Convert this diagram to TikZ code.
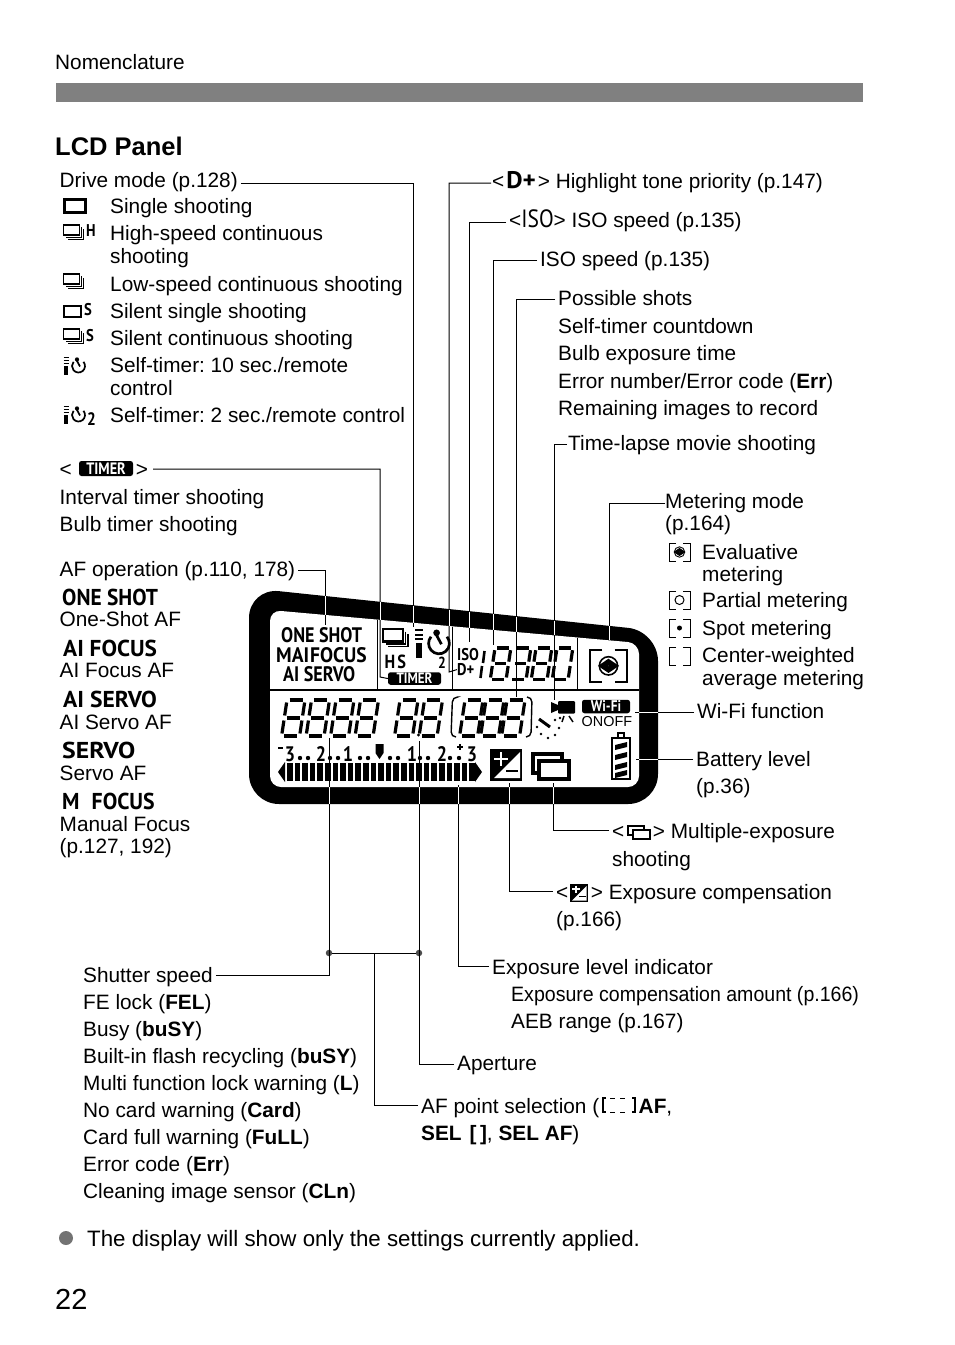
\documentclass[tikz,border=0pt]{standalone}
\usepackage{fontspec}
\setmainfont{Liberation Sans}
\newfontfamily\lcdfont[FakeStretch=0.86]{PT Sans}
\usetikzlibrary{positioning}

\tikzset{
  txt/.style={anchor=base west,inner sep=0pt,font=\fontsize{20.8}{24}\selectfont,text height=14pt,text depth=2pt},
  lcdtxt/.style={anchor=base west,inner sep=0pt,font=\lcdfont\bfseries\fontsize{#1}{#1}\selectfont},
  lcdtxt/.default=23,
  leader/.style={line width=1pt,shorten <=3pt},
  tag/.style={fill=black,text=white,rounded corners=2.5pt,inner sep=0pt,font=\lcdfont\bfseries\fontsize{#1}{#1}\selectfont},
  seg/.style={line width=3.2pt},
  junction/.style={circle,fill=black!70,inner sep=0pt,minimum size=6.5pt}
}

% seven segment digits
\def\segzero{2.5/0/15.5/0,2.5/36/15.5/36,0/2.5/0/15.5,18/2.5/18/15.5,0/20.5/0/33.5,18/20.5/18/33.5}
\def\segthree{2.5/0/15.5/0,2.5/18/15.5/18,2.5/36/15.5/36,18/2.5/18/15.5,18/20.5/18/33.5}
\def\segeight{2.5/0/15.5/0,2.5/18/15.5/18,2.5/36/15.5/36,0/2.5/0/15.5,18/2.5/18/15.5,0/20.5/0/33.5,18/20.5/18/33.5}
\newcommand\segdigit[4]{
  \begin{scope}[shift={(#1,#2)},xslant=0.15,scale=#3]
    \foreach \xa/\ya/\xb/\yb in #4 {\draw[seg] (\xa,\ya) -- (\xb,\yb);}
  \end{scope}}

% drive icons
\newcommand\burst[3]{
  \begin{scope}[shift={(#1,#2)},scale=#3]
    \draw[line width=#3*1.9pt] (0,0) rectangle (16,10);
    \draw[line width=#3*1pt] (18,2) -- (18,12) -- (2,12);
    \draw[line width=#3*1pt] (20,4) -- (20,14) -- (4,14);
  \end{scope}}
\newcommand\selftimer[3]{
  \begin{scope}[shift={(#1,#2)},scale=#3]
    \foreach \y in {0.5,3.5,6.5} {\draw[line width=#3*1.2pt] (0,\y) -- (5,\y);}
    \fill (0.5,9) rectangle (4.5,18);
    \draw[line width=#3*1.7pt] (19.98,4.82) arc[start angle=-40,end angle=220,radius=6.5];
    \fill (13.5,2.4) circle (2.1);
    \draw[line width=#3*1.7pt] (13,3) -- (16.5,9.5);
  \end{scope}}
% metering icon
\newcommand\meterbox[3]{
  \begin{scope}[shift={(#1,#2)},scale=#3]
    \draw[line width=#3*1pt] (7,0) -- (0,0) -- (0,18) -- (7,18);
    \draw[line width=#3*1pt] (14,0) -- (21,0) -- (21,18) -- (14,18);
  \end{scope}}
\newcommand\evaleye[3]{
  \begin{scope}[shift={(#1,#2)},scale=#3]
    \draw[line width=#3*0.9pt] (10.5,9) circle (5.2);
    \draw[line width=#3*0.9pt,fill=black] (5.3,9) -- (10.5,5.5) -- (15.7,9) -- (10.5,12.5) -- cycle;
    \fill[white] (10.5,9) circle (0.1);
  \end{scope}}

\begin{document}
\frenchspacing
\begin{tikzpicture}[x=1pt,y=-1pt,>=stealth]
  \useasboundingbox (0,0) rectangle (954,1345);

  % page head
  \node[txt] (head) at (55,69) {Nomenclature};
  \fill[black!50] (56,83) rectangle (863,102);
  \node[txt,font=\bfseries\fontsize{25.5}{28}\selectfont] (title) at (55,155) {LCD Panel};

  % drive mode
  \node[txt] (drive) at (59.5,187) {Drive mode (p.128)};
  \node[txt] (single) at (110,213) {Single shooting};
  \node[txt] (highA) at (110,240) {High-speed continuous};
  \node[txt] (highB) at (110,263) {shooting};
  \node[txt] (low) at (110,291) {Low-speed continuous shooting};
  \node[txt] (ssingle) at (110,318) {Silent single shooting};
  \node[txt] (scont) at (110,345) {Silent continuous shooting};
  \node[txt] (tenA) at (110,372) {Self-timer: 10 sec./remote};
  \node[txt] (tenB) at (110,395) {control};
  \node[txt] (two) at (110,422) {Self-timer: 2 sec./remote control};
  \draw[line width=3pt] (64,199) rectangle (85,212);
  \burst{63.5}{225}{1}
  \node[lcdtxt=17] (iconH) at (86,236) {H};
  \burst{63.5}{274}{1}
  \draw[line width=1.8pt] (64,306) rectangle (81,317);
  \node[lcdtxt=17] (iconSa) at (84,315) {S};
  \burst{63.5}{329}{1}
  \node[lcdtxt=17] (iconSb) at (86,341) {S};
  \selftimer{63.5}{357}{1}
  \selftimer{63.5}{406}{1}
  \node[lcdtxt=18] (iconT) at (87,425) {2};

  % timer
  \node[txt] (timer) at (59.5,476) {<\hspace{64pt}>};
  \node[tag=16.5,minimum width=54pt,minimum height=15pt] (timertag) at (106,468.5) {TIMER};
  \node[txt] (interval) at (59.5,504) {Interval timer shooting};
  \node[txt] (bulbtimer) at (59.5,531) {Bulb timer shooting};

  % AF operation
  \node[txt] (afop) at (59.5,576) {AF operation (p.110, 178)};
  \node[lcdtxt] (oneicon) at (62,605) {\scalebox{1.08}[1]{ONE SHOT}};
  \node[txt] (one) at (59.5,626) {One-Shot AF};
  \node[lcdtxt] (focicon) at (63,656) {\scalebox{1.175}[1]{AI FOCUS}};
  \node[txt] (foc) at (59.5,677) {AI Focus AF};
  \node[lcdtxt] (serviconA) at (63,707) {\scalebox{1.19}[1]{AI SERVO}};
  \node[txt] (servA) at (59.5,729) {AI Servo AF};
  \node[lcdtxt] (serviconB) at (62,758) {\scalebox{1.3}[1]{SERVO}};
  \node[txt] (servB) at (59.5,780) {Servo AF};
  \node[lcdtxt] (manicon) at (62,809) {\scalebox{1.1}[1]{M\hspace{11pt}FOCUS}};
  \node[txt] (manA) at (59.5,831) {Manual Focus};
  \node[txt] (manB) at (59.5,853) {(p.127, 192)};

  % labels right of the panel
  \node[txt] (dplus) at (492,188) {<\hspace{2pt}{\lcdfont\bfseries\fontsize{24}{24}\selectfont\scalebox{1.22}[1]{D+}}\hspace{2pt}> Highlight tone priority (p.147)};
  \node[txt] (iso) at (509,227) {<{\lcdfont\fontsize{25}{25}\selectfont ISO}> ISO speed (p.135)};
  \node[txt] (isosp) at (540,266) {ISO speed (p.135)};
  \node[txt] (shots) at (558,305) {Possible shots};
  \node[txt] (count) at (558,333) {Self-timer countdown};
  \node[txt] (bulb) at (558,360) {Bulb exposure time};
  \node[txt] (error) at (558,388) {Error number/Error code ({\bfseries Err})};
  \node[txt] (remain) at (558,415) {Remaining images to record};
  \node[txt] (lapse) at (568,450) {Time-lapse movie shooting};
  \node[txt] (meter) at (665,508) {Metering mode};
  \node[txt] (meterB) at (665,530) {(p.164)};
  \node[txt] (evalA) at (702,559) {Evaluative};
  \node[txt] (evalB) at (702,581) {metering};
  \node[txt] (partial) at (702,607) {Partial metering};
  \node[txt] (spot) at (702,635) {Spot metering};
  \node[txt] (centerA) at (702,662) {Center-weighted};
  \node[txt] (centerB) at (702,685) {average metering};
  \meterbox{669}{543}{1}
  \evaleye{669}{543}{1}
  \meterbox{669}{591}{1}
  \draw[line width=1pt] (679.5,600) circle (4.5);
  \meterbox{669}{619}{1}
  \fill (679.5,628) circle (2.5);
  \meterbox{669}{647}{1}
  \node[txt] (wifi) at (697,718) {Wi-Fi function};
  \node[txt] (battery) at (696,766) {Battery level};
  \node[txt] (batteryB) at (696,793) {(p.36)};
  \node[txt] (multi) at (612,838) {<\hspace{28.5pt}> Multiple-exposure};
  \node[txt] (multiB) at (612,866) {shooting};
  \draw[line width=1.8pt] (628,826) rectangle (644,835);
  \draw[line width=2.6pt,fill=white] (633,830) rectangle (650,839);
  \node[txt] (comp) at (556,899) {<\hspace{22.5pt}> Exposure compensation};
  \node[txt] (compB) at (556,926) {(p.166)};
  \fill (570,884) rectangle (588,902);
  \fill[white] (586.5,886) -- (586.5,900.5) -- (572,900.5) -- cycle;
  \draw[white,line width=1.4pt] (572,889) -- (580,889) (576,885.5) -- (576,892.5);
  \draw[line width=1.5pt] (579,896.5) -- (586,896.5);
  \node[txt] (level) at (492,974) {Exposure level indicator};
  \node[txt] (levelB) at (511,1001) {\scalebox{0.94}[1]{Exposure compensation amount (p.166)}};
  \node[txt] (levelC) at (511,1028) {AEB range (p.167)};
  \node[txt] (aperture) at (457,1070) {Aperture};
  \node[txt] (afpoint) at (421,1113) {AF point selection (\hspace{39.5pt}{\bfseries AF},};
  \node[txt] (afpointB) at (421,1140) {{\bfseries SEL}\hspace{8pt}{\bfseries[\,]}, {\bfseries SEL AF})};
  \draw[line width=1.8pt] (606,1098) -- (603,1098) -- (603,1112) -- (606,1112);
  \draw[line width=1.8pt] (632,1098) -- (635,1098) -- (635,1112) -- (632,1112);
  \draw[line width=1pt] (610,1098) -- (615,1098) (620,1098) -- (625,1098) (610,1112) -- (615,1112) (620,1112) -- (625,1112);

  % labels under the panel
  \node[txt] (shutter) at (83,982) {Shutter speed};
  \node[txt] (fel) at (83,1009) {FE lock ({\bfseries FEL})};
  \node[txt] (busy) at (83,1036) {Busy ({\bfseries buSY})};
  \node[txt] (flash) at (83,1063) {Built-in flash recycling ({\bfseries buSY})};
  \node[txt] (multilock) at (83,1090) {Multi function lock warning ({\bfseries L})};
  \node[txt] (nocard) at (83,1117) {No card warning ({\bfseries Card})};
  \node[txt] (fullcard) at (83,1144) {Card full warning ({\bfseries FuLL})};
  \node[txt] (errcode) at (83,1171) {Error code ({\bfseries Err})};
  \node[txt] (clean) at (83,1198) {Cleaning image sensor ({\bfseries CLn})};

  % foot of the page
  \fill[black!55] (66,1238) circle (7);
  \node[txt,font=\fontsize{22.3}{24}\selectfont] (note) at (87,1246) {The display will show only the settings currently applied.};
  \node[txt,font=\fontsize{29}{30}\selectfont,text height=21pt] (pagenum) at (55,1309) {22};

  % panel body
  \fill[rounded corners=30pt] (249,804) -- (249,588) -- (658,631) -- (658,804) -- cycle;
  \fill[white,rounded corners=11pt] (270,787) -- (270,610) -- (639,643) -- (639,787) -- cycle;
  \draw[line width=1.7pt] (270,690) -- (639,690);
  \draw[line width=1.5pt] (377.5,620) -- (377.5,690) (452.5,627) -- (452.5,690) (577.5,638) -- (577.5,690);

  % panel top row
  \node[lcdtxt=21] (pone) at (281,642) {ONE SHOT};
  \node[lcdtxt=21] (pmai) at (276,662) {\scalebox{1.08}[1]{MAI\hspace{1pt}FOCUS}};
  \node[lcdtxt=21] (pservo) at (283,681) {AI SERVO};
  \burst{383}{629}{1.25}
  \selftimer{415}{629}{1.6}
  \node[lcdtxt=19] (phs) at (384.5,668) {H\hspace{2pt}S};
  \node[lcdtxt=16] (ptwo) at (438,668) {2};
  \node[tag=15,minimum width=53pt,minimum height=12.5pt] (ptimer) at (414.5,678.5) {TIMER};
  \node[lcdtxt=17] (piso) at (457,660) {ISO};
  \node[lcdtxt=17] (pdplus) at (457,675.5) {D+};
  \draw[line width=2.6pt] (484.5,651) -- (483,663) (482,666) -- (480.5,678);
  \segdigit{495}{648}{0.88}{\segeight}
  \segdigit{515}{648}{0.88}{\segthree}
  \segdigit{536}{648}{0.88}{\segeight}
  \segdigit{557}{648}{0.88}{\segzero}
  \meterbox{590}{650}{1.76}
  \evaleye{590}{650}{1.76}

  % panel middle row
  \foreach \x in {287,311.5,336,360.5,400,424.5,465,486,507} {\segdigit{\x}{700}{1}{\segeight}}
  \fill (418.5,735) circle (1.7);
  \draw[line width=1.4pt,rounded corners=5pt] (457,697) -- (452.5,697) -- (451,737) -- (456,737);
  \draw[line width=1.4pt,rounded corners=5pt] (527,697) -- (532,697) -- (531,737) -- (526,737);
  \fill[rounded corners=1pt] (558,701) rectangle (575,713.5);
  \fill (551,702) -- (558,705) -- (558,710) -- (551,713) -- cycle;
  \draw[line width=1.5pt] (564,716) -- (562,722) (569,716) -- (573,722);
  \draw[line width=3pt] (539,719) -- (550,727);
  \foreach \x/\y in {555/720,560/718,559/728,555/735,548/738,541/734,537/727} {\fill (\x,\y) circle (1.4);}
  \node[tag=15.5,minimum width=48pt,minimum height=13.5pt] (pwifi) at (606,706.5) {Wi-Fi};
  \node[anchor=base west,inner sep=0pt,font=\fontsize{14.4}{15}\selectfont] (ponoff) at (581.5,726.5) {ONOFF};

  % exposure scale
  \node[lcdtxt=21,anchor=base] (sa) at (290,761) {3};
  \draw[line width=1.3pt] (278,748) -- (283,748);
  \node[lcdtxt=21,anchor=base] (sb) at (321,761) {2};
  \node[lcdtxt=21,anchor=base] (sc) at (348,761) {1};
  \node[lcdtxt=21,anchor=base] (sd) at (412,761) {1};
  \node[lcdtxt=21,anchor=base] (se) at (442,761) {2};
  \node[lcdtxt=21,anchor=base] (sf) at (472,761) {3};
  \draw[line width=1.3pt] (457,747) -- (463,747) (460,744) -- (460,750);
  \foreach \x in {300,308,330,338,360,368,390,398,420,428,450,459} {\fill (\x,758) circle (2.2);}
  \fill (375.5,744) -- (383.5,744) -- (383.5,753) -- (379.5,759) -- (375.5,753) -- cycle;
  \foreach \i in {0,...,24} {\fill (287+\i*7.6,763) rectangle (292.6+\i*7.6,781);}
  \fill (278,772) -- (285,762) -- (285,782) -- cycle;
  \fill (482,772) -- (475,762) -- (475,782) -- cycle;

  % exposure compensation, multiple exposure, battery
  \fill (490,749) rectangle (522,781);
  \fill[white] (520,752) -- (520,778) -- (494,778) -- cycle;
  \draw[white,line width=2.6pt] (494,759) -- (508,759) (501,752) -- (501,766);
  \draw[line width=2.6pt] (506,771) -- (518,771);
  \draw[line width=3.2pt] (533,754) rectangle (562,773);
  \draw[line width=3.2pt,fill=white] (539,761) rectangle (569,779);
  \draw[line width=2.2pt] (612,738) rectangle (630,779);
  \draw[line width=2pt] (617.5,737) |- (624,733) -- (624,737);
  \foreach \y in {742,752,762,770} {\fill (615,\y+3) -- (627,\y) -- (627,\y+5) -- (615,\y+8) -- cycle;}

  % connector ends on the panel
  \coordinate (cdrive) at (413,627);
  \coordinate (ctimer) at (ptimer.west);
  \coordinate (cafop) at (325,625);
  \coordinate (cdplus) at (pdplus.west);
  \coordinate (ciso) at (469,642);
  \coordinate (cisosp) at (493,645);
  \coordinate (cshots) at (516,697);
  \coordinate (clapse) at (554,700);
  \coordinate (cmeter) at (609,640);
  \coordinate (cmulti) at (553,783);
  \coordinate (ccomp) at (509,783);
  \coordinate (clevel) at (458,785);
  \coordinate (cshutter) at (329,738);
  \coordinate (caper) at (419,741);
  \coordinate (cwifi) at (635,712);
  \coordinate (cbatt) at (636,759);
  \node[junction] (jshutter) at (329,953) {};
  \node[junction] (japer) at (419,953) {};
  \coordinate (jaf) at (374,953);

  % connectors
  \draw[leader] ([yshift=-2pt]drive.east) -| (cdrive);
  \draw[leader,shorten <=5pt] ([yshift=1pt]timer.east) -| (380,677) -- (ctimer);
  \draw[leader] (afop.east) -| (cafop);
  \draw[leader,shorten <=1pt] ([yshift=-1pt]dplus.west) -| (449,672) -- (cdplus);
  \draw[leader] ([yshift=-1pt]iso.west) -| (ciso);
  \draw[leader] (isosp.west) -| (cisosp);
  \draw[leader] (shots.west) -| (cshots);
  \draw[leader,shorten <=1pt] (lapse.west) -| (clapse);
  \draw[leader,shorten <=0pt] ([yshift=-1pt]meter.west) -| (cmeter);
  \draw[leader] (wifi.west) -- (cwifi);
  \draw[leader] ([yshift=1pt]battery.west) -- (cbatt);
  \draw[leader] ([yshift=2pt]multi.west) -| (cmulti);
  \draw[leader] ([yshift=2pt]comp.west) -| (ccomp);
  \draw[leader] ([yshift=2pt]level.west) -| (clevel);
  \draw[leader] ([yshift=1pt]shutter.east) -| (cshutter);
  \draw[leader] (aperture.west) -| (caper);
  \draw[leader] ([yshift=2pt]afpoint.west) -| (jaf);
  \draw[leader,shorten <=0pt] (jshutter) -- (japer);

  % connectors show white on the black frame
  \foreach \x in {325,380,413,449,469,493,516,554,609}
    {\draw[white,line width=1pt] (\x,{588.5+.105*(\x-249)}) -- (\x,{610+.0894*(\x-270)});}
  \foreach \x in {329,419,458,509,553} {\draw[white,line width=1pt] (\x,787) -- (\x,804);}
  \foreach \y in {712,759} {\draw[white,line width=1pt] (639,\y) -- (658,\y);}
\end{tikzpicture}
\end{document}
